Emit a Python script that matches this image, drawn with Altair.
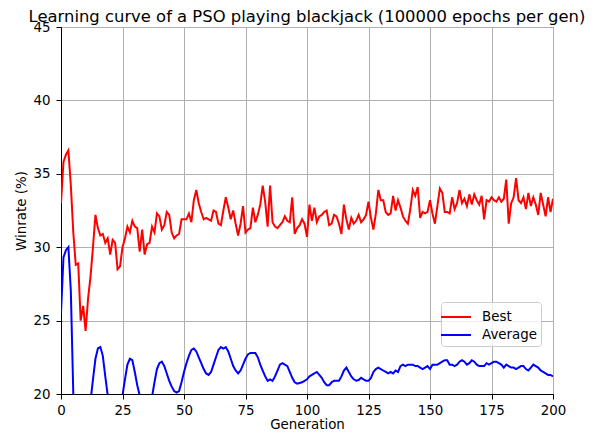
import altair as alt
import pandas as pd

generations = list(range(0, 201))

best = [
    33.0, 35.8, 36.3, 36.6, 34.2, 31.0, 28.8, 28.9, 25.0, 26.0,
    24.3, 26.5, 28.0, 30.0, 32.2, 31.3, 30.8, 30.9, 30.3, 30.6,
    29.5, 30.5, 30.3, 28.5, 28.7, 30.0, 30.6, 31.4, 31.0, 31.8,
    31.4, 31.3, 29.7, 31.2, 29.5, 30.2, 30.3, 31.4, 31.0, 32.3,
    32.1, 31.2, 31.5, 32.4, 32.2, 31.0, 30.6, 30.8, 30.9, 31.9,
    31.9, 31.9, 32.3, 31.7, 33.2, 33.9, 33.0, 32.4, 31.9, 32.0,
    31.9, 31.8, 32.5, 32.4, 31.6, 31.5, 32.5, 33.4, 32.7, 31.9,
    32.5, 31.6, 30.8, 31.6, 32.8, 31.0, 31.2, 31.3, 32.7, 31.7,
    32.2, 32.9, 34.2, 33.1, 31.4, 34.2, 31.7, 31.4, 31.3, 31.5,
    31.7, 32.1, 31.8, 31.7, 33.4, 30.9, 31.3, 31.5, 31.9, 31.6,
    30.7, 32.9, 31.8, 32.7, 31.7, 32.1, 32.2, 32.4, 32.5, 31.5,
    31.6, 32.2, 32.1, 31.6, 30.9, 32.9, 31.9, 31.2, 32.0, 31.6,
    31.8, 32.2, 31.7, 31.9, 32.2, 33.1, 32.0, 31.2, 32.3, 33.9,
    33.2, 33.2, 32.4, 32.2, 32.3, 33.5, 32.5, 33.2, 32.7, 32.1,
    31.8, 31.6, 32.6, 33.9, 33.5, 34.1, 32.0, 32.4, 32.3, 32.4,
    33.2, 32.3, 31.6, 32.8, 34.0, 33.7, 32.4, 32.4, 32.3, 33.4,
    32.6, 33.0, 33.9, 33.0, 33.3, 32.8, 33.6, 32.9, 33.6, 33.2,
    32.9, 33.5, 31.9, 33.2, 33.1, 33.4, 33.2, 33.1, 33.4, 33.1,
    33.3, 34.6, 31.6, 33.0, 33.4, 34.7, 33.2, 33.0, 33.4, 32.6,
    33.7, 32.8, 33.4, 32.9, 32.2, 33.7, 32.9, 32.1, 33.4, 32.4,
    33.3,
]

average = [
    25.5, 29.3, 29.8, 30.0, 27.0, 20.0, 16.5, 15.5, 15.2, 15.8,
    17.0, 18.5, 19.5, 21.0, 22.4, 23.1, 23.2, 22.6, 21.2, 19.9,
    18.8, 18.3, 18.5, 19.0, 19.5, 19.9, 21.0, 22.0, 22.4, 22.3,
    21.5, 20.6, 19.9, 19.0, 18.7, 18.8, 19.2, 19.8, 20.8, 21.7,
    22.1, 22.2, 21.9, 21.4, 20.9, 20.5, 20.2, 20.1, 20.2, 20.8,
    21.5, 22.1, 22.6, 23.0, 23.1, 22.9, 22.5, 22.1, 21.7, 21.4,
    21.3, 21.5, 22.0, 22.5, 23.0, 23.2, 23.1, 23.2, 22.9, 22.4,
    21.9, 21.6, 21.4, 21.6, 22.0, 22.4, 22.7, 22.8, 22.8, 22.8,
    22.5, 22.0, 21.6, 21.2, 20.9, 21.0, 20.9, 21.2, 21.6, 22.0,
    22.1, 22.0, 21.9, 21.5, 21.1, 20.8, 20.7, 20.75, 20.8, 20.9,
    21.0, 21.2, 21.3, 21.4, 21.5, 21.3, 21.1, 20.8, 20.6, 20.6,
    20.8, 20.9, 20.9, 20.9, 21.2, 21.6, 21.8, 21.5, 21.2, 21.0,
    20.9, 20.95, 21.1, 21.0, 20.9, 20.9, 21.1, 21.5, 21.7, 21.8,
    21.7, 21.6, 21.5, 21.4, 21.5, 21.4, 21.6, 21.5, 21.9, 22.0,
    21.9, 22.0, 22.0, 22.0, 21.9, 21.9, 21.8, 21.7, 21.8, 21.9,
    21.7, 22.0, 22.0, 22.0, 22.1, 22.2, 22.3, 22.3, 22.0, 22.0,
    21.9, 22.0, 22.2, 22.3, 22.2, 22.0, 22.1, 22.3, 22.2, 22.0,
    21.9, 21.9, 21.9, 22.1, 22.0, 22.1, 22.2, 22.2, 22.1, 22.0,
    21.8, 22.0, 21.9, 21.8, 21.8, 21.7, 21.8, 21.9, 21.9, 21.7,
    21.6, 21.8, 22.0, 21.9, 21.8, 21.6, 21.5, 21.4, 21.3, 21.3,
    21.2,
]

series_names = ["Best", "Average"]
series_colors = ["#ff0000", "#0000ff"]
x_ticks = [0, 25, 50, 75, 100, 125, 150, 175, 200]
y_ticks = [20, 25, 30, 35, 40, 45]

df = pd.concat([
    pd.DataFrame({"Generation": generations, "Winrate": best, "Series": "Best"}),
    pd.DataFrame({"Generation": generations, "Winrate": average, "Series": "Average"}),
])

FONT = "DejaVu Sans"
FS = 13.4

chart = alt.Chart(df).mark_line(strokeWidth=2, clip=True).encode(
    x=alt.X("Generation:Q",
            scale=alt.Scale(domain=[0, 200], nice=False, zero=False),
            axis=alt.Axis(values=x_ticks, title="Generation", format="d",
                          labelFlush=False, labelOverlap=False)),
    y=alt.Y("Winrate:Q",
            scale=alt.Scale(domain=[20, 45], nice=False, zero=False),
            axis=alt.Axis(values=y_ticks, title="Winrate (%)", format="d",
                          labelFlush=False, labelOverlap=False)),
    color=alt.Color("Series:N",
                    scale=alt.Scale(domain=series_names, range=series_colors),
                    legend=alt.Legend(title=None, orient="none", legendX=380, legendY=275,
                                      symbolType="M-1.5,0H1.5", symbolSize=400,
                                      symbolStrokeWidth=2, symbolFillColor="transparent",
                                      labelFontSize=FS, labelFont=FONT, labelColor="#000000",
                                      fillColor="rgba(255,255,255,0.8)",
                                      strokeColor="#cccccc", cornerRadius=3,
                                      padding=4, rowPadding=0, labelOffset=15)),
    order=alt.Order("Generation:Q"),
).properties(
    width=492,
    height=367,
    title=alt.TitleParams("Learning curve of a PSO playing blackjack (100000 epochs per gen)",
                          font=FONT, fontSize=16.4, fontWeight="normal", color="#000000",
                          anchor="middle", offset=2, dy=7),
    padding={"left": 53, "top": 19, "right": 34, "bottom": 37},
    autosize=alt.AutoSizeParams(type="none"),
).configure_view(
    stroke="#000000", strokeWidth=1
).configure_axis(
    grid=True, gridColor="#b0b0b0", gridWidth=1,
    domainColor="#000000", domainWidth=1,
    tickColor="#000000", tickSize=5, tickWidth=1,
    labelFont=FONT, labelFontSize=FS, labelColor="#000000", labelPadding=4,
    titleFont=FONT, titleFontSize=FS, titleFontWeight="normal", titleColor="#000000",
).configure_axisY(
    titlePadding=4, labelPadding=6
).configure_axisX(
    titlePadding=1
)

chart.save("out.html", embed_options={"renderer": "svg", "actions": False})
